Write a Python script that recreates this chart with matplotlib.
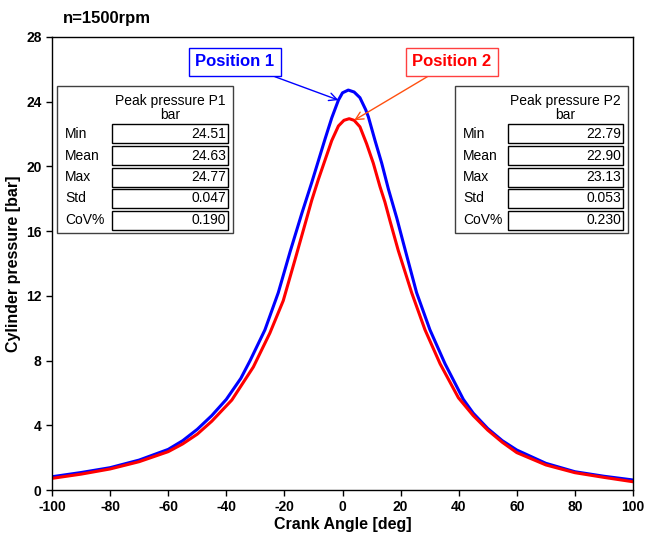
import matplotlib
matplotlib.use('Agg')
import matplotlib.pyplot as plt
from matplotlib.patches import Rectangle

plt.rcParams['font.family'] = ['Liberation Sans', 'DejaVu Sans']
plt.rcParams['axes.unicode_minus'] = False

# cylinder pressure [bar] vs crank angle [deg], position 1 (blue)
angle1 = [-100, -90, -80, -70, -60, -55, -50, -45, -40, -35, -31.8, -26.7, -22.1, -18, -14,
          -10.6, -8.3, -6, -3.7, -1.4, 0, 2, 4, 6, 8, 8.9, 11.2, 13.5, 15.8, 18.7, 20.9,
          25.5, 30.1, 35.3, 41.6, 45, 50, 55, 60, 70, 80, 90, 100]
p1 = [0.82, 1.08, 1.38, 1.85, 2.51, 3.05, 3.75, 4.6, 5.6, 6.9, 8.0, 9.9, 12.2, 14.75, 17.1,
      19.0, 20.35, 21.7, 23.0, 24.1, 24.55, 24.72, 24.6, 24.25, 23.5, 23.07, 21.6, 20.2, 18.6,
      16.8, 15.3, 12.2, 9.9, 7.8, 5.6, 4.75, 3.8, 3.05, 2.47, 1.65, 1.13, 0.85, 0.62]

# position 2 (red)
angle2 = [-100, -90, -80, -70, -60, -55, -50, -45, -38.1, -30.7, -25, -20.4, -16.4, -12,
          -10.6, -8.3, -6, -3.7, -1.4, 0.5, 2.3, 4, 6, 8.3, 10.6, 12.9, 14.6, 16.4, 19.2,
          23.8, 28.4, 33.6, 39.9, 45, 50, 55, 60, 70, 80, 90, 100]
p2 = [0.72, 0.98, 1.30, 1.75, 2.37, 2.85, 3.45, 4.25, 5.56, 7.6, 9.7, 11.7, 14.2, 17.0,
      17.9, 19.2, 20.4, 21.6, 22.5, 22.85, 22.95, 22.85, 22.45, 21.4, 20.2, 18.75, 17.8,
      16.6, 14.8, 12.2, 9.9, 7.8, 5.7, 4.6, 3.7, 2.95, 2.31, 1.55, 1.07, 0.78, 0.51]

stat_names = ['Min', 'Mean', 'Max', 'Std', 'CoV%']
stats_p1 = ['24.51', '24.63', '24.77', '0.047', '0.190']
stats_p2 = ['22.79', '22.90', '23.13', '0.053', '0.230']

W, H = 646, 533
fig = plt.figure(figsize=(W / 100, H / 100), dpi=100)
ax = fig.add_axes([52 / W, 1 - 490 / H, (633 - 52) / W, (490 - 37) / H])

ax.plot(angle1, p1, color='#0000FF', lw=2.2, solid_joinstyle='round')
ax.plot(angle2, p2, color='#FF0000', lw=2.2, solid_joinstyle='round')

ax.set_xlim(-100, 100)
ax.set_ylim(0, 28)
ax.set_xticks(range(-100, 101, 20))
ax.set_yticks(range(0, 29, 4))
ax.tick_params(direction='out', length=4, width=1, labelsize=10)
for lab in ax.get_xticklabels() + ax.get_yticklabels():
    lab.set_fontweight('bold')
ax.set_xlabel('Crank Angle [deg]', fontsize=11.5, fontweight='bold', labelpad=2)
ax.set_ylabel('Cylinder pressure [bar]', fontsize=11.5, fontweight='bold', labelpad=4)
for s in ax.spines.values():
    s.set_linewidth(1)

fig.text(63 / W, 1 - 18 / H, 'n=1500rpm', fontsize=12, fontweight='bold', va='center')

# annotations pointing at the peaks
i1 = angle1.index(-1.4)
ax.annotate('Position 1', xy=(angle1[i1], p1[i1]), xytext=(235 / W, 1 - 62 / H),
            textcoords='figure fraction', ha='center', va='center',
            fontsize=12, fontweight='bold', color='#0000FF',
            bbox=dict(boxstyle='square,pad=0.4', fc='white', ec='#0000FF', lw=1),
            arrowprops=dict(arrowstyle='->', color='#0000FF', lw=1,
                            shrinkA=0, shrinkB=0, mutation_scale=14))
i2 = angle2.index(4)
ax.annotate('Position 2', xy=(angle2[i2], p2[i2]), xytext=(452 / W, 1 - 62 / H),
            textcoords='figure fraction', ha='center', va='center',
            fontsize=12, fontweight='bold', color='#FF0000',
            bbox=dict(boxstyle='square,pad=0.4', fc='white', ec='#FF4040', lw=1),
            arrowprops=dict(arrowstyle='->', color='#FF5010', lw=1,
                            shrinkA=0, shrinkB=0, mutation_scale=14))


def px_rect(x0, y0, x1, y1, **kw):
    r = Rectangle((x0 / W, 1 - y1 / H), (x1 - x0) / W, (y1 - y0) / H,
                  transform=fig.transFigure, fill=True, fc='white', **kw)
    fig.add_artist(r)


def stats_table(x0, x1, vx0, vx1, title, values):
    px_rect(x0, 86, x1, 233, ec='#404040', lw=1)
    cx = (vx0 + vx1) / 2
    fig.text(cx / W, 1 - 101 / H, title, fontsize=10, ha='center', va='center')
    fig.text(cx / W, 1 - 115 / H, 'bar', fontsize=10, ha='center', va='center')
    for k, (name, val) in enumerate(zip(stat_names, values)):
        yc = 134 + k * 21.5
        px_rect(vx0, yc - 9.5, vx1, yc + 9.5, ec='black', lw=1)
        fig.text((x0 + 8) / W, 1 - yc / H, name, fontsize=10, va='center')
        fig.text((vx1 - 2) / W, 1 - yc / H, val, fontsize=10, ha='right', va='center')


stats_table(57, 233, 112, 228, 'Peak pressure P1', stats_p1)
stats_table(455, 628, 508, 623, 'Peak pressure P2', stats_p2)

fig.savefig('out.png', dpi=100)
